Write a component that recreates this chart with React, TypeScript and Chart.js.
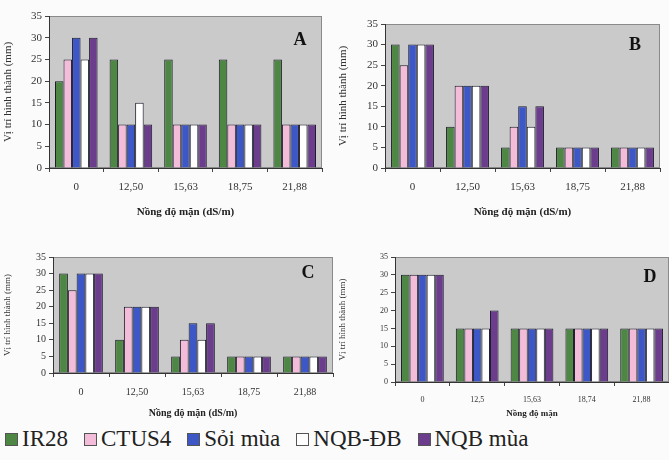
import React, { useEffect, useRef } from "react";
import { Chart, registerables } from "chart.js";
Chart.register(...registerables);

const seriesNames = ["IR28", "CTUS4", "Sỏi mùa", "NQB-ĐB", "NQB mùa"];
const seriesColors = ["#4e8744", "#f3bdd9", "#3d57c6", "#ffffff", "#6b3d8c"];

const categoriesABC = ["0", "12,50", "15,63", "18,75", "21,88"];
const categoriesD = ["0", "12,5", "15,63", "18,74", "21,88"];

// Panel A
const aIR28 = [20, 25, 25, 25, 25];
const aCTUS4 = [25, 10, 10, 10, 10];
const aSoiMua = [30, 10, 10, 10, 10];
const aNQBDB = [25, 15, 10, 10, 10];
const aNQBMua = [30, 10, 10, 10, 10];
// Panel B
const bIR28 = [30, 10, 5, 5, 5];
const bCTUS4 = [25, 20, 10, 5, 5];
const bSoiMua = [30, 20, 15, 5, 5];
const bNQBDB = [30, 20, 10, 5, 5];
const bNQBMua = [30, 20, 15, 5, 5];
// Panel C
const cIR28 = [30, 10, 5, 5, 5];
const cCTUS4 = [25, 20, 10, 5, 5];
const cSoiMua = [30, 20, 15, 5, 5];
const cNQBDB = [30, 20, 10, 5, 5];
const cNQBMua = [30, 20, 15, 5, 5];
// Panel D
const dIR28 = [30, 15, 15, 15, 15];
const dCTUS4 = [30, 15, 15, 15, 15];
const dSoiMua = [30, 15, 15, 15, 15];
const dNQBDB = [30, 15, 15, 15, 15];
const dNQBMua = [30, 20, 15, 15, 15];

const yTitle = "Vị trí hình thành (mm)";
const SERIF = '"Liberation Serif", "DejaVu Serif", "Times New Roman", serif';

type Panel = {
  key: string;
  letter: string;
  cats: string[];
  series: number[][];
  xTitle: string;
  left: number; top: number; w: number; h: number;
  pl: number; pr: number; pt: number; pb: number;
  tickFont: number; yTitleFont: number; xTitleFont: number;
  labelPad: number;
  letterDx: number; letterDy: number;
};

const panels: Panel[] = [
  { key: "A", letter: "A", cats: categoriesABC, series: [aIR28, aCTUS4, aSoiMua, aNQBDB, aNQBMua],
    xTitle: "Nồng độ mặn (dS/m)", left: 0, top: 0, w: 335, h: 222,
    pl: 49, pr: 322, pt: 16, pb: 168, tickFont: 11, yTitleFont: 11, xTitleFont: 11, labelPad: 9,
    letterDx: 22, letterDy: 24 },
  { key: "B", letter: "B", cats: categoriesABC, series: [bIR28, bCTUS4, bSoiMua, bNQBDB, bNQBMua],
    xTitle: "Nồng độ mặn (dS/m)", left: 335, top: 0, w: 334, h: 222,
    pl: 50, pr: 325, pt: 24, pb: 168, tickFont: 11, yTitleFont: 11, xTitleFont: 11, labelPad: 9,
    letterDx: 25, letterDy: 21 },
  { key: "C", letter: "C", cats: categoriesABC, series: [cIR28, cCTUS4, cSoiMua, cNQBDB, cNQBMua],
    xTitle: "Nồng độ mặn (dS/m)", left: 0, top: 222, w: 335, h: 200,
    pl: 53, pr: 333, pt: 35, pb: 151, tickFont: 10, yTitleFont: 9, xTitleFont: 10, labelPad: 9,
    letterDx: 25, letterDy: 16 },
  { key: "D", letter: "D", cats: categoriesD, series: [dIR28, dCTUS4, dSoiMua, dNQBDB, dNQBMua],
    xTitle: "Nồng độ mặn", left: 335, top: 222, w: 334, h: 200,
    pl: 60, pr: 334, pt: 35, pb: 160, tickFont: 8, yTitleFont: 9, xTitleFont: 9, labelPad: 9,
    letterDx: 19, letterDy: 20 },
];

function PanelChart({ p }: { p: Panel }) {
  const ref = useRef<HTMLCanvasElement>(null);
  useEffect(() => {
    if (!ref.current) return;
    const bgPlugin = {
      id: "bg" + p.key,
      beforeDraw(chart: any) {
        const { ctx, chartArea: a } = chart;
        ctx.save();
        ctx.fillStyle = "#cacaca";
        ctx.fillRect(a.left, a.top, a.right - a.left, a.bottom - a.top);
        ctx.strokeStyle = "#8a8a8a";
        ctx.lineWidth = 1;
        ctx.strokeRect(a.left + 0.5, a.top + 0.5, a.right - a.left - 1, a.bottom - a.top - 1);
        ctx.restore();
      },
      afterDraw(chart: any) {
        const { ctx, chartArea: a } = chart;
        ctx.save();
        ctx.fillStyle = "#111";
        ctx.font = `bold 18px ${SERIF}`;
        ctx.textAlign = "center";
        ctx.textBaseline = "middle";
        ctx.fillText(p.letter, a.right - p.letterDx, a.top + p.letterDy);
        ctx.restore();
      },
    };
    const chart = new Chart(ref.current, {
      type: "bar",
      data: {
        labels: p.cats,
        datasets: p.series.map((d, i) => ({
          label: seriesNames[i],
          data: d,
          backgroundColor: seriesColors[i],
          borderColor: "#1c1c2c",
          borderWidth: 1,
          categoryPercentage: 0.78,
          barPercentage: 1.0,
        })),
      },
      options: {
        animation: false,
        responsive: false,
        maintainAspectRatio: false,
        layout: { padding: { left: 0, top: p.pt, right: p.w - p.pr, bottom: 0 } },
        plugins: { legend: { display: false }, tooltip: { enabled: false } },
        scales: {
          x: {
            afterFit: (s: any) => { s.height = p.h - p.pb; },
            grid: { display: true, drawOnChartArea: false, drawTicks: true, tickLength: 4, color: "#444", offset: true },
            border: { display: true, color: "#333" },
            ticks: { color: "#333", font: { family: SERIF, size: p.tickFont }, padding: p.labelPad, maxRotation: 0 },
            title: { display: true, text: p.xTitle, color: "#222", font: { family: SERIF, size: p.xTitleFont, weight: "bold" }, padding: { top: 2, bottom: 3 } },
          },
          y: {
            min: 0, max: 35,
            afterFit: (s: any) => { s.width = p.pl; },
            grid: { display: true, drawOnChartArea: false, drawTicks: true, tickLength: 4, color: "#444" },
            border: { display: true, color: "#333" },
            ticks: { stepSize: 5, color: "#333", font: { family: SERIF, size: p.tickFont }, padding: 3 },
            title: { display: true, text: yTitle, color: "#333", font: { family: SERIF, size: p.yTitleFont }, padding: { top: 2, bottom: 2 } },
          },
        },
      },
      plugins: [bgPlugin],
    } as any);
    return () => chart.destroy();
  }, []);
  return (
    <canvas
      ref={ref}
      width={p.w}
      height={p.h}
      style={{ position: "absolute", left: p.left, top: p.top, width: p.w, height: p.h }}
    />
  );
}

export default function App() {
  return (
    <div style={{ position: "fixed", left: 0, top: 0, width: 669, height: 460, background: "#fbfbfb", overflow: "hidden" }}>
      {panels.map((p) => <PanelChart key={p.key} p={p} />)}
      <div style={{ position: "absolute", left: 5, top: 426, display: "flex", alignItems: "center", fontFamily: SERIF, fontSize: 23, color: "#222", whiteSpace: "nowrap" }}>
        {seriesNames.map((n, i) => (
          <div key={n} style={{ display: "flex", alignItems: "center", marginRight: 16 }}>
            <span style={{ display: "inline-block", width: 11, height: 11, background: seriesColors[i], border: "1px solid #555", marginRight: 4 }} />
            <span>{n}</span>
          </div>
        ))}
      </div>
    </div>
  );
}
